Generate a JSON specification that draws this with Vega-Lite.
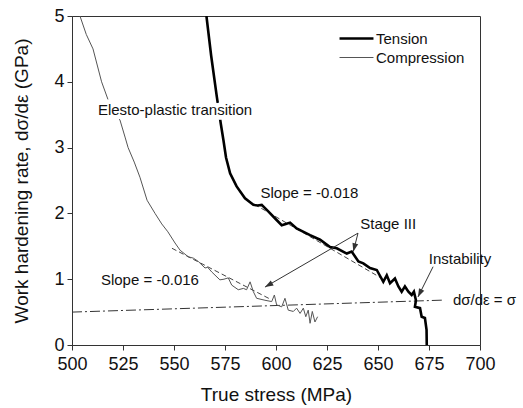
{
  "$schema": "https://vega.github.io/schema/vega-lite/v6.json",
  "width": 408,
  "height": 329,
  "autosize": "none",
  "padding": {"left": 72, "top": 16, "right": 43, "bottom": 63},
  "background": "white",
  "datasets": {
    "curves": [
      {"series": "Compression", "x": 503.9, "y": 5.0},
      {"series": "Compression", "x": 507, "y": 4.72},
      {"series": "Compression", "x": 510.3, "y": 4.5},
      {"series": "Compression", "x": 514.5, "y": 4.0},
      {"series": "Compression", "x": 518, "y": 3.7},
      {"series": "Compression", "x": 521, "y": 3.52},
      {"series": "Compression", "x": 523.5, "y": 3.42},
      {"series": "Compression", "x": 526, "y": 3.16},
      {"series": "Compression", "x": 527.5, "y": 3.0},
      {"series": "Compression", "x": 530.5, "y": 2.78},
      {"series": "Compression", "x": 533.3, "y": 2.55},
      {"series": "Compression", "x": 536.8, "y": 2.2},
      {"series": "Compression", "x": 540.7, "y": 2.0},
      {"series": "Compression", "x": 544, "y": 1.84},
      {"series": "Compression", "x": 547, "y": 1.72},
      {"series": "Compression", "x": 550.5, "y": 1.55},
      {"series": "Compression", "x": 553, "y": 1.44},
      {"series": "Compression", "x": 557, "y": 1.34},
      {"series": "Compression", "x": 559.5, "y": 1.32},
      {"series": "Compression", "x": 561.9, "y": 1.27},
      {"series": "Compression", "x": 565.2, "y": 1.17},
      {"series": "Compression", "x": 566.5, "y": 1.18},
      {"series": "Compression", "x": 568.5, "y": 1.11},
      {"series": "Compression", "x": 572.5, "y": 0.99},
      {"series": "Compression", "x": 574.5, "y": 1.0},
      {"series": "Compression", "x": 576.6, "y": 1.02},
      {"series": "Compression", "x": 578.3, "y": 0.91},
      {"series": "Compression", "x": 581.5, "y": 0.84},
      {"series": "Compression", "x": 584, "y": 0.86},
      {"series": "Compression", "x": 585.6, "y": 0.84},
      {"series": "Compression", "x": 587.3, "y": 0.96},
      {"series": "Compression", "x": 588.9, "y": 0.81},
      {"series": "Compression", "x": 590.5, "y": 0.71},
      {"series": "Compression", "x": 594.6, "y": 0.68},
      {"series": "Compression", "x": 597.9, "y": 0.66},
      {"series": "Compression", "x": 599.2, "y": 0.76},
      {"series": "Compression", "x": 600.3, "y": 0.61},
      {"series": "Compression", "x": 602.8, "y": 0.58},
      {"series": "Compression", "x": 604.4, "y": 0.71},
      {"series": "Compression", "x": 606, "y": 0.53},
      {"series": "Compression", "x": 608.5, "y": 0.51},
      {"series": "Compression", "x": 610.1, "y": 0.56},
      {"series": "Compression", "x": 611.8, "y": 0.48},
      {"series": "Compression", "x": 613.4, "y": 0.56},
      {"series": "Compression", "x": 614.6, "y": 0.43},
      {"series": "Compression", "x": 615.8, "y": 0.53},
      {"series": "Compression", "x": 616.7, "y": 0.33},
      {"series": "Compression", "x": 617.8, "y": 0.51},
      {"series": "Compression", "x": 619.1, "y": 0.35},
      {"series": "Compression", "x": 620.4, "y": 0.43},
      {"series": "Tension", "x": 565.9, "y": 5.0},
      {"series": "Tension", "x": 568.2, "y": 4.4},
      {"series": "Tension", "x": 571, "y": 3.77},
      {"series": "Tension", "x": 572.9, "y": 3.37},
      {"series": "Tension", "x": 574.2, "y": 3.12},
      {"series": "Tension", "x": 575.5, "y": 2.85},
      {"series": "Tension", "x": 577.5, "y": 2.61},
      {"series": "Tension", "x": 580.7, "y": 2.41},
      {"series": "Tension", "x": 584.8, "y": 2.23},
      {"series": "Tension", "x": 588.9, "y": 2.13},
      {"series": "Tension", "x": 591, "y": 2.12},
      {"series": "Tension", "x": 593, "y": 2.13},
      {"series": "Tension", "x": 596.2, "y": 2.03},
      {"series": "Tension", "x": 600.3, "y": 1.9},
      {"series": "Tension", "x": 602.8, "y": 1.82},
      {"series": "Tension", "x": 604.8, "y": 1.84},
      {"series": "Tension", "x": 606.9, "y": 1.86},
      {"series": "Tension", "x": 610.1, "y": 1.77},
      {"series": "Tension", "x": 616.7, "y": 1.67},
      {"series": "Tension", "x": 621.6, "y": 1.6},
      {"series": "Tension", "x": 626.5, "y": 1.49},
      {"series": "Tension", "x": 629.8, "y": 1.47},
      {"series": "Tension", "x": 634.7, "y": 1.39},
      {"series": "Tension", "x": 637.1, "y": 1.42},
      {"series": "Tension", "x": 640.4, "y": 1.27},
      {"series": "Tension", "x": 642.8, "y": 1.24},
      {"series": "Tension", "x": 646.1, "y": 1.17},
      {"series": "Tension", "x": 649.4, "y": 1.14},
      {"series": "Tension", "x": 652.6, "y": 0.96},
      {"series": "Tension", "x": 654.3, "y": 1.06},
      {"series": "Tension", "x": 655.9, "y": 0.94},
      {"series": "Tension", "x": 658.3, "y": 1.01},
      {"series": "Tension", "x": 660, "y": 0.89},
      {"series": "Tension", "x": 661.6, "y": 0.81},
      {"series": "Tension", "x": 663.2, "y": 0.89},
      {"series": "Tension", "x": 664.9, "y": 0.81},
      {"series": "Tension", "x": 666.5, "y": 0.76},
      {"series": "Tension", "x": 667.6, "y": 0.81},
      {"series": "Tension", "x": 668.6, "y": 0.68},
      {"series": "Tension", "x": 668.1, "y": 0.58},
      {"series": "Tension", "x": 670.6, "y": 0.56},
      {"series": "Tension", "x": 671.4, "y": 0.43},
      {"series": "Tension", "x": 673, "y": 0.41},
      {"series": "Tension", "x": 673.8, "y": 0.23},
      {"series": "Tension", "x": 673.9, "y": 0.0}
    ],
    "fits": [
      {"fit": "compression", "x": 549, "y": 1.47},
      {"fit": "compression", "x": 597, "y": 0.7},
      {"fit": "tension", "x": 586, "y": 2.2},
      {"fit": "tension", "x": 652, "y": 1.01}
    ],
    "sigma": [
      {"x": 500, "y": 0.5},
      {"x": 682, "y": 0.682}
    ],
    "arrows": [
      {"id": "stage_t", "x": 640.2, "y": 1.7, "x2": 637.9, "y2": 1.42},
      {"id": "stage_c", "x": 640.2, "y": 1.7, "x2": 594.6, "y2": 0.88},
      {"id": "instab", "x": 677, "y": 1.19, "x2": 669.6, "y2": 0.73}
    ],
    "labels": [
      {"text": "Elesto-plastic transition", "x": 550.5, "y": 3.57},
      {"text": "Slope = -0.018", "x": 616.4, "y": 2.31},
      {"text": "Slope = -0.016", "x": 538.2, "y": 0.99},
      {"text": "Stage III", "x": 655, "y": 1.84},
      {"text": "Instability", "x": 690.2, "y": 1.31},
      {"text": "dσ/dε = σ", "x": 702.2, "y": 0.68}
    ]
  },
  "layer": [
    {
      "data": {"name": "sigma"},
      "mark": {"type": "line", "color": "#333", "strokeWidth": 1, "strokeDash": [10, 3, 2, 3]},
      "encoding": {
        "x": {"field": "x", "type": "quantitative", "scale": {"domain": [500, 700], "nice": false},
          "axis": {"values": [500, 525, 550, 575, 600, 625, 650, 675, 700], "title": "True stress (MPa)", "titlePadding": 12, "labelPadding": 5}},
        "y": {"field": "y", "type": "quantitative", "scale": {"domain": [0, 5], "nice": false},
          "axis": {"values": [0, 1, 2, 3, 4, 5], "format": "d", "title": "Work hardening rate, dσ/dε (GPa)", "titlePadding": 22}}
      }
    },
    {
      "data": {"name": "fits"},
      "mark": {"type": "line", "color": "#444", "strokeWidth": 1, "strokeDash": [5, 3]},
      "encoding": {
        "x": {"field": "x", "type": "quantitative"},
        "y": {"field": "y", "type": "quantitative"},
        "detail": {"field": "fit", "type": "nominal"}
      }
    },
    {
      "data": {"name": "curves"},
      "mark": {"type": "line", "clip": true},
      "encoding": {
        "x": {"field": "x", "type": "quantitative"},
        "y": {"field": "y", "type": "quantitative"},
        "order": {"value": null},
        "color": {"field": "series", "type": "nominal",
          "scale": {"domain": ["Tension", "Compression"], "range": ["#000000", "#555555"]},
          "legend": {"title": null, "orient": "none", "legendX": 277, "legendY": 15, "symbolType": "M-3,0H3", "symbolSize": 128,
            "labelFont": "Liberation Sans", "labelFontSize": 15, "labelColor": "#111", "labelOffset": 12, "rowPadding": 3}},
        "strokeWidth": {"field": "series", "type": "nominal",
          "scale": {"domain": ["Tension", "Compression"], "range": [2.6, 1]},
          "legend": {"title": null, "orient": "none", "legendX": 277, "legendY": 15, "symbolType": "M-3,0H3", "symbolSize": 128,
            "labelFont": "Liberation Sans", "labelFontSize": 15, "labelColor": "#111", "labelOffset": 12, "rowPadding": 3}}
      }
    },
    {
      "data": {"name": "arrows"},
      "mark": {"type": "rule", "color": "#333", "strokeWidth": 1},
      "encoding": {
        "x": {"field": "x", "type": "quantitative"},
        "y": {"field": "y", "type": "quantitative"},
        "x2": {"field": "x2"},
        "y2": {"field": "y2"}
      }
    },
    {
      "data": {"name": "arrows"},
      "transform": [{"filter": "datum.id == 'stage_t'"}],
      "mark": {"type": "point", "shape": "M0,0L-0.7,2L0.7,2Z", "size": 70, "filled": true, "color": "#333", "opacity": 1, "angle": 194},
      "encoding": {
        "x": {"field": "x2", "type": "quantitative"},
        "y": {"field": "y2", "type": "quantitative"}
      }
    },
    {
      "data": {"name": "arrows"},
      "transform": [{"filter": "datum.id == 'stage_c'"}],
      "mark": {"type": "point", "shape": "M0,0L-0.7,2L0.7,2Z", "size": 70, "filled": true, "color": "#333", "opacity": 1, "angle": 240},
      "encoding": {
        "x": {"field": "x2", "type": "quantitative"},
        "y": {"field": "y2", "type": "quantitative"}
      }
    },
    {
      "data": {"name": "arrows"},
      "transform": [{"filter": "datum.id == 'instab'"}],
      "mark": {"type": "point", "shape": "M0,0L-0.7,2L0.7,2Z", "size": 70, "filled": true, "color": "#333", "opacity": 1, "angle": 206},
      "encoding": {
        "x": {"field": "x2", "type": "quantitative"},
        "y": {"field": "y2", "type": "quantitative"}
      }
    },
    {
      "data": {"name": "labels"},
      "transform": [{"filter": "datum.text == 'Elesto-plastic transition'"}],
      "mark": {"type": "text", "font": "Liberation Sans", "fontSize": 15, "color": "white", "stroke": "white", "strokeWidth": 9, "align": "center", "baseline": "middle"},
      "encoding": {
        "x": {"field": "x", "type": "quantitative"},
        "y": {"field": "y", "type": "quantitative"},
        "text": {"field": "text"}
      }
    },
    {
      "data": {"name": "labels"},
      "mark": {"type": "text", "font": "Liberation Sans", "fontSize": 15, "color": "#111", "align": "center", "baseline": "middle"},
      "encoding": {
        "x": {"field": "x", "type": "quantitative"},
        "y": {"field": "y", "type": "quantitative"},
        "text": {"field": "text"}
      }
    }
  ],
  "config": {
    "view": {"stroke": "#333", "strokeWidth": 1},
    "axis": {
      "domainColor": "#333", "tickColor": "#333", "labelColor": "#111", "titleColor": "#111",
      "labelFont": "Liberation Sans", "titleFont": "Liberation Sans",
      "labelFontSize": 18, "titleFontSize": 19, "titleFontWeight": "normal",
      "tickSize": 5, "grid": false, "labelPadding": 3, "labelFlush": false, "labelOverlap": false
    }
  }
}
